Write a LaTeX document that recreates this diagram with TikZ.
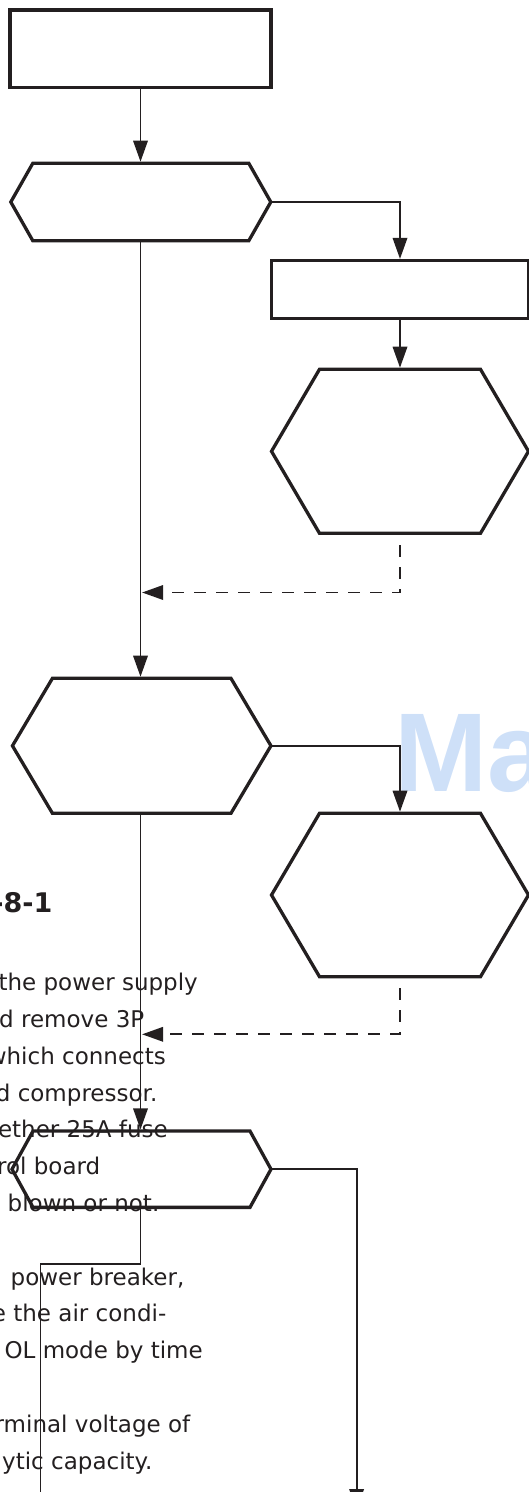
\documentclass[tikz,border=0pt]{standalone}
\usepackage{fontspec}
\setmainfont{DejaVu Sans}
\newfontfamily\wmfont{Liberation Sans}
\usetikzlibrary{arrows.meta}
\definecolor{ink}{HTML}{231F20}
\definecolor{wmblue}{RGB}{206,224,248}
\newcommand{\hexoutline}[2]{\draw[boxline] (#1.west) -- ([xshift=#2]#1.north west) -- ([xshift=-#2]#1.north east) -- (#1.east) -- ([xshift=-#2]#1.south east) -- ([xshift=#2]#1.south west) -- cycle;}
\tikzset{
  boxline/.style={draw=ink, line width=3.3pt, line join=miter},
  rectbox/.style={rectangle, draw=ink, line width=3.3pt, inner sep=0pt, outer sep=0pt},
  hexbox/.style={rectangle, draw=none, inner sep=0pt, outer sep=0pt},
  plainline/.style={draw=ink, line width=1.8pt},
  conn/.style={plainline, -{Triangle[length=21pt,width=14.5pt]}, shorten >=1.6pt},
  dconn/.style={conn, dash pattern=on 12pt off 10pt, shorten <=11.7pt},
  bodytext/.style={font=\fontsize{23}{28}\selectfont, text=ink, inner sep=0pt, anchor=base east},
  headtext/.style={font=\bfseries\fontsize{27}{32}\selectfont, text=ink, inner sep=0pt, anchor=base west},
  wmtext/.style={font=\wmfont\bfseries\fontsize{112}{120}\selectfont, text=wmblue, inner sep=0pt, anchor=base west}
}
\begin{document}
\begin{tikzpicture}[x=1pt,y=-1pt]
\useasboundingbox (0,0) rectangle (529,1492);
\clip (0,0) rectangle (529,1492);
% watermark
\node[wmtext] (wm) at (393.8,791.7) {Ma};
% background text
\node[headtext] (t0) at (-7.8,912.5) {-8-1};
\node[bodytext] (t1) at (198,990.6) {the power supply};
\node[bodytext] (t2) at (144.5,1027.4) {d remove 3P};
\node[bodytext] (t3) at (166,1064.2) {which connects};
\node[bodytext] (t4) at (157.5,1101) {d compressor.};
\node[bodytext] (t5) at (168,1137.8) {ether 25A fuse};
\node[bodytext] (t6) at (100.5,1174.6) {rol board};
\node[bodytext] (t7) at (159.5,1211.4) {blown or not.};
\node[bodytext] (t8) at (184.5,1285) {power breaker,};
\node[bodytext] (t9) at (166.5,1321.8) {e the air condi-};
\node[bodytext] (t10) at (203,1358.6) {OL mode by time};
\node[bodytext] (t11) at (190.5,1432.2) {rminal voltage of};
\node[bodytext] (t12) at (152.5,1469) {ytic capacity.};
% boxes
\node[rectbox, minimum width=261pt, minimum height=77.3pt] (r1) at (140.5,48.7) {};
\node[hexbox, minimum width=260pt, minimum height=77.4pt] (h1) at (140.8,202) {};
\node[rectbox, minimum width=257pt, minimum height=58pt] (r2) at (400,289.5) {};
\node[hexbox, minimum width=257pt, minimum height=164pt] (h2) at (400,451.3) {};
\node[hexbox, minimum width=258.5pt, minimum height=135pt] (h3) at (141.7,745.8) {};
\node[hexbox, minimum width=257pt, minimum height=163.4pt] (h4) at (400,895) {};
\node[hexbox, minimum width=259pt, minimum height=76.3pt] (h5) at (141.5,1169.2) {};
\hexoutline{h1}{22pt}
\hexoutline{h2}{48pt}
\hexoutline{h3}{40pt}
\hexoutline{h4}{48pt}
\hexoutline{h5}{21pt}
% connectors
\draw[conn] (r1.south) -- (r1.south |- h1.north);
\draw[conn] (h1.east) -| (r2.north);
\draw[conn] (r2.south) -- (r2.south |- h2.north);
\coordinate (d1) at (h2.south |- 0,592.5);
\coordinate (j1) at (r1.south |- d1);
\draw[dconn] (h2.south) -- (d1) -- (j1);
\draw[conn] (h1.south -| r1.south) -- (r1.south |- h3.north);
\draw[conn] (h3.east) -| (h4.north);
\coordinate (d2) at (h4.south |- 0,1034.3);
\coordinate (j2) at (r1.south |- d2);
\draw[dconn] (h4.south) -- (d2) -- (j2);
\draw[conn] (h3.south -| r1.south) -- (r1.south |- h5.north);
\coordinate (b1) at (r1.south |- 0,1264.3);
\coordinate (b2) at (40.5,1264.3);
\coordinate (b3) at (40.5,1500);
\draw[plainline] (h5.south -| r1.south) -- (b1) -- (b2) -- (b3);
\coordinate (c2) at (356.6,1510);
\draw[conn, shorten >=0pt] (h5.east) -| (c2);
\end{tikzpicture}
\end{document}
